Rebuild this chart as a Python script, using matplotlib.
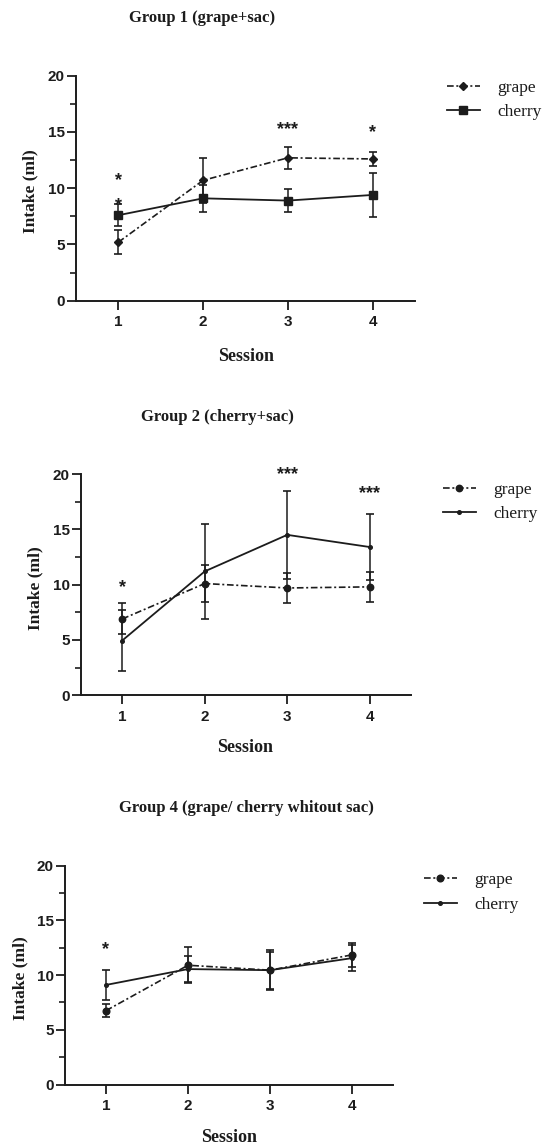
import numpy as np
import matplotlib
matplotlib.use("Agg")
from matplotlib import pyplot as plt
from matplotlib.ticker import MultipleLocator

# data (mean intake in ml, error bar half-length)
sessions = [1, 2, 3, 4]

g1_grape = [5.2, 10.7, 12.7, 12.6]
g1_grape_err = [1.05, 2.0, 1.0, 0.6]
g1_cherry = [7.6, 9.1, 8.9, 9.4]
g1_cherry_err = [1.0, 1.2, 1.05, 1.95]
g1_stars = [(1, 11.05, '*'), (1, 8.8, '*'), (3, 15.6, '***'), (4, 15.25, '*')]

g2_grape = [6.9, 10.1, 9.7, 9.8]
g2_grape_err = [1.4, 1.7, 1.35, 1.35]
g2_cherry = [4.95, 11.2, 14.5, 13.4]
g2_cherry_err = [2.75, 4.3, 4.0, 3.0]
g2_stars = [(1, 10.1, '*'), (3, 20.3, '***'), (4, 18.6, '***')]

g4_grape = [6.75, 10.9, 10.45, 11.85]
g4_grape_err = [0.6, 1.65, 1.8, 1.1]
g4_cherry = [9.1, 10.55, 10.45, 11.55]
g4_cherry_err = [1.4, 1.2, 1.7, 1.2]
g4_stars = [(1, 12.65, '*')]

titles = ['Group 1 (grape+sac)', 'Group 2 (cherry+sac)', 'Group 4 (grape/ cherry whitout sac)']

W, H = 548, 1147
INK = '#1c1c1c'
SERIF = 'Liberation Serif'
SANS = 'Liberation Sans'

fig = plt.figure(figsize=(W / 100, H / 100), dpi=100)


def fx(px):
    return px / W


def fy(py):
    return 1 - py / H


# panel boxes in pixels: left, right, top, bottom
boxes = [(76, 415, 75.7, 300.7), (81, 411, 474, 695.3), (65, 393, 865.7, 1084.5)]
title_pos = [(202, 18.5), (217, 417), (246, 808.5)]
ylab_pos = [(30, 191), (35, 588), (20, 978)]
xlab_pos = [(246, 356.5), (245, 748), (229, 1138)]
leg_pos = [(447, 100), (443, 502), (424, 892.5)]

panels = [
    (g1_grape, g1_grape_err, g1_cherry, g1_cherry_err, g1_stars, ('D', 4.2), ('s', 5.5)),
    (g2_grape, g2_grape_err, g2_cherry, g2_cherry_err, g2_stars, ('o', 4.6), ('o', 2.6)),
    (g4_grape, g4_grape_err, g4_cherry, g4_cherry_err, g4_stars, ('o', 4.8), ('o', 2.6)),
]

for i, (gv, ge, cv, ce, stars, gm, cm_) in enumerate(panels):
    l, r, t, b = boxes[i]
    ax = fig.add_axes([fx(l), fy(b), fx(r - l), (b - t) / H])

    eg = ax.errorbar(sessions, gv, yerr=ge, color=INK, linewidth=1.2,
                     linestyle=(0, (4, 1.6, 1.2, 1.6)), marker=gm[0], markersize=gm[1],
                     capsize=3, capthick=1.2, elinewidth=1.1, clip_on=False)
    ec = ax.errorbar(sessions, cv, yerr=ce, color=INK, linewidth=1.3,
                     linestyle='-', marker=cm_[0], markersize=cm_[1],
                     capsize=3, capthick=1.2, elinewidth=1.1, clip_on=False)

    for sx, sy, s in stars:
        ax.text(sx, sy - 0.35, s, ha='center', va='center', fontsize=13, color=INK,
                fontfamily=SANS, fontweight='bold', clip_on=False)

    ax.set_xlim(0.5, 4.5)
    ax.set_ylim(0, 20)
    ax.set_xticks(sessions)
    ax.yaxis.set_major_locator(MultipleLocator(5))
    ax.yaxis.set_minor_locator(MultipleLocator(2.5))
    for side in ['top', 'right']:
        ax.spines[side].set_visible(False)
    for side in ['left', 'bottom']:
        ax.spines[side].set_linewidth(1.4)
        ax.spines[side].set_color(INK)
    ax.tick_params(which='major', length=6.5, width=1.3, color=INK,
                   labelsize=11, labelcolor=INK)
    ax.tick_params(which='minor', length=4.5, width=1.2, color=INK)
    ax.tick_params(axis='y', pad=1.5)
    ax.tick_params(axis='x', pad=4)
    for lab in ax.get_xticklabels() + ax.get_yticklabels():
        lab.set_fontfamily(SANS)
        lab.set_fontweight('bold')

    fig.text(fx(title_pos[i][0]), fy(title_pos[i][1]), titles[i], ha='center', va='center',
             fontsize=12, fontfamily=SERIF, fontweight='bold', color=INK)
    fig.text(fx(ylab_pos[i][0]), fy(ylab_pos[i][1]), 'Intake (ml)', ha='center', va='center',
             rotation=90, fontsize=12.5, fontfamily=SERIF, fontweight='bold', color=INK)
    fig.text(fx(xlab_pos[i][0]), fy(xlab_pos[i][1]), 'Session', ha='center', va='center',
             fontsize=13, fontfamily=SERIF, fontweight='bold', color=INK)

    ax.legend([eg[0], ec[0]], ['grape', 'cherry'], loc='center left',
              bbox_to_anchor=(fx(leg_pos[i][0]), fy(leg_pos[i][1])),
              bbox_transform=fig.transFigure, frameon=False, borderpad=0,
              borderaxespad=0, handlelength=1.9, handletextpad=1.0, labelspacing=0.5,
              prop={'family': SERIF, 'size': 12.5}, labelcolor=INK)

fig.savefig('out.png', dpi=100)
